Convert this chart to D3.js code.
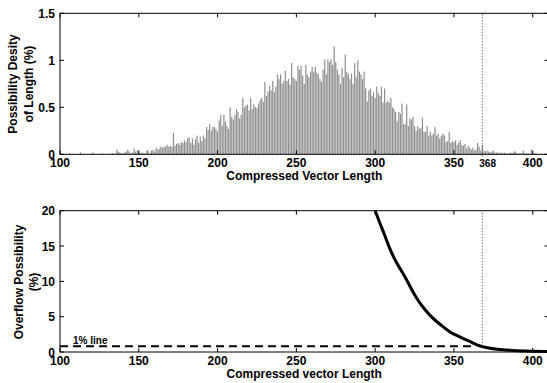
<!DOCTYPE html>
<html>
<head>
<meta charset="utf-8">
<script src="https://cdn.jsdelivr.net/npm/d3@7"></script>
<style>
  body { margin: 0; background: #fff; }
  svg text { font-family: "Liberation Sans", Arial, sans-serif; font-weight: bold; }
</style>
</head>
<body>
<svg id="chart" width="547" height="383"></svg>
<script>
// histogram: density (%) per compressed vector length, lengths 100..410
const lengthStart = 100;
const density = [
  0,0,0,0,0,0,0.01,0,0,0,
  0,0,0,0.02,0,0,0,0,0,0,
  0,0.02,0,0,0,0,0,0.01,0,0,
  0,0,0,0.01,0.01,0,0.05,0.03,0.02,0.01,
  0.01,0.02,0.03,0.05,0.03,0.01,0.02,0.06,0.03,0.04,
  0.02,0.01,0.02,0.01,0.01,0.04,0.04,0.01,0.04,0.05,
  0.03,0.07,0.05,0.06,0.08,0.07,0.08,0.08,0.1,0.08,
  0.09,0.08,0.23,0.09,0.11,0.12,0.1,0.13,0.12,0.15,
  0.13,0.17,0.18,0.12,0.17,0.1,0.16,0.2,0.12,0.19,
  0.14,0.2,0.17,0.29,0.26,0.32,0.25,0.29,0.29,0.27,
  0.24,0.36,0.42,0.3,0.42,0.35,0.3,0.27,0.5,0.4,
  0.37,0.42,0.48,0.45,0.38,0.42,0.6,0.5,0.52,0.53,
  0.47,0.6,0.48,0.53,0.5,0.49,0.54,0.58,0.6,0.56,
  0.77,0.62,0.67,0.73,0.68,0.78,0.66,0.72,0.85,0.8,
  0.85,0.75,0.78,0.89,0.78,0.8,0.74,0.97,0.82,0.8,
  0.78,0.94,0.9,0.94,0.84,0.75,0.95,0.85,0.82,0.88,
  0.93,0.88,0.93,0.87,0.85,0.8,0.77,0.9,1.01,0.85,
  1.01,0.98,1.01,0.95,1.15,0.98,0.9,0.85,0.75,0.92,
  0.82,1.06,0.88,0.85,0.8,0.86,0.75,0.97,0.82,1.0,
  0.88,0.85,0.8,0.88,0.7,0.56,0.68,0.7,0.62,0.66,
  0.6,0.72,0.65,0.62,0.72,0.55,0.7,0.55,0.57,0.55,
  0.6,0.5,0.48,0.45,0.35,0.45,0.43,0.54,0.32,0.32,
  0.53,0.3,0.38,0.37,0.4,0.3,0.25,0.3,0.27,0.28,
  0.39,0.24,0.24,0.3,0.2,0.24,0.2,0.22,0.29,0.2,
  0.22,0.17,0.2,0.22,0.2,0.13,0.14,0.24,0.12,0.14,
  0.13,0.15,0.1,0.12,0.15,0.1,0.09,0.11,0.06,0.09,
  0.07,0.05,0.07,0.04,0.05,0.12,0.08,0.04,0.1,0.04,
  0.03,0.04,0.03,0.02,0.03,0.04,0.02,0.02,0.02,0.01,
  0.02,0.01,0.02,0.01,0.01,0.01,0.02,0.01,0.03,0.03,
  0.01,0.01,0.01,0.01,0.04,0.01,0.01,0.01,0,0.05,
  0.01,0.01,0.01,0,0,0,0,0,0,0
];

// overflow curve
const overflowLength = [300,303,306,309,313,317,320,323,326,330,335,339,343,347,350,355,358,362,366,371,377,385,394,410];
const overflowPct    = [20,18.2,16.6,14.7,12.8,11.4,10.2,8.9,7.7,6.4,5.1,4.3,3.6,2.9,2.5,2.0,1.7,1.3,0.85,0.61,0.38,0.24,0.14,0.05];

const xTicks = [100,150,200,250,300,350,400];
const topYTicks = [0,0.5,1,1.5];
const botYTicks = [0,5,10,15,20];
const markLength = 368;
const onePctLine = {from: 100, to: 364, value: 0.8};

const svg = d3.select("#chart");
const left = 60, right = 548.5;

const x = d3.scaleLinear().domain([100, 410]).range([left, right]);
const yTop = d3.scaleLinear().domain([0, 1.5]).range([154.3, 13.3]);
const yBot = d3.scaleLinear().domain([0, 20]).range([352, 210.7]);

function drawBox(yScale, yTicks, yFmt) {
  const [y0, y1] = yScale.range();
  const g = svg.append("g");
  g.append("rect")
    .attr("x", left).attr("y", y1)
    .attr("width", right - left).attr("height", y0 - y1)
    .attr("fill", "none").attr("stroke", "#000").attr("stroke-width", 1);

  xTicks.forEach(t => {
    g.append("line").attr("x1", x(t)).attr("x2", x(t)).attr("y1", y0).attr("y2", y0 - 4).attr("stroke", "#000");
    g.append("line").attr("x1", x(t)).attr("x2", x(t)).attr("y1", y1).attr("y2", y1 + 4).attr("stroke", "#000");
    g.append("text").attr("x", x(t)).attr("y", y0 + 12.5)
      .attr("text-anchor", "middle").attr("font-size", 12).text(t);
  });
  yTicks.forEach(t => {
    g.append("line").attr("x1", left).attr("x2", left + 4).attr("y1", yScale(t)).attr("y2", yScale(t)).attr("stroke", "#000");
    g.append("line").attr("x1", right).attr("x2", right - 4).attr("y1", yScale(t)).attr("y2", yScale(t)).attr("stroke", "#000");
    g.append("text").attr("x", left - 5).attr("y", yScale(t) + 4.5)
      .attr("text-anchor", "end").attr("font-size", 12).text(yFmt(t));
  });
  return g;
}

// ---- top chart ----
const bars = svg.append("g");
bars.selectAll("rect")
  .data(density.map((v, i) => ({len: lengthStart + i, v})).filter(d => d.v > 0))
  .enter().append("rect")
    .attr("x", d => x(d.len) - 0.6)
    .attr("y", d => yTop(d.v))
    .attr("width", 1.2)
    .attr("height", d => yTop(0) - yTop(d.v))
    .attr("fill", "#8f8f8f");

drawBox(yTop, topYTicks, d => d);

svg.append("line")
  .attr("x1", x(markLength)).attr("x2", x(markLength))
  .attr("y1", yTop(1.5) + 1).attr("y2", yTop(0) + 3)
  .attr("stroke", "#333").attr("stroke-width", 1).attr("stroke-dasharray", "1,2");
svg.append("text").attr("x", x(markLength) - 3).attr("y", 166.5)
  .attr("font-size", 10).text(markLength);

svg.append("text").attr("x", (left + right) / 2).attr("y", 180)
  .attr("text-anchor", "middle").attr("font-size", 12).text("Compressed Vector Length");
svg.append("text").attr("transform", "translate(17,84) rotate(-90)")
  .attr("text-anchor", "middle").attr("font-size", 12).text("Possibility Desity");
svg.append("text").attr("transform", "translate(33,84) rotate(-90)")
  .attr("text-anchor", "middle").attr("font-size", 12).text("of Length (%)");

// ---- bottom chart ----
svg.append("defs").append("clipPath").attr("id", "botClip")
  .append("rect").attr("x", left).attr("y", yBot(20)).attr("width", right - left).attr("height", yBot(0) - yBot(20) + 2);

drawBox(yBot, botYTicks, d => d);

svg.append("line")
  .attr("x1", x(onePctLine.from)).attr("x2", x(onePctLine.to))
  .attr("y1", yBot(onePctLine.value)).attr("y2", yBot(onePctLine.value))
  .attr("stroke", "#000").attr("stroke-width", 2).attr("stroke-dasharray", "8,5");
svg.append("text").attr("x", 73).attr("y", 343.5).attr("font-size", 10).text("1% line");

svg.append("line")
  .attr("x1", x(markLength)).attr("x2", x(markLength))
  .attr("y1", yBot(20) + 2).attr("y2", yBot(1.2))
  .attr("stroke", "#333").attr("stroke-width", 1).attr("stroke-dasharray", "1,2");

const line = d3.line()
  .x((d, i) => x(overflowLength[i]))
  .y(d => yBot(d))
  .curve(d3.curveBasis);
svg.append("path")
  .datum(overflowPct)
  .attr("clip-path", "url(#botClip)")
  .attr("d", line)
  .attr("fill", "none").attr("stroke", "#000").attr("stroke-width", 3);

svg.append("text").attr("x", (left + right) / 2).attr("y", 378)
  .attr("text-anchor", "middle").attr("font-size", 12).text("Compressed vector Length");
svg.append("text").attr("transform", "translate(23,282) rotate(-90)")
  .attr("text-anchor", "middle").attr("font-size", 12).text("Overflow Possibility");
svg.append("text").attr("transform", "translate(38,282) rotate(-90)")
  .attr("text-anchor", "middle").attr("font-size", 12).text("(%)");
</script>
</body>
</html>
